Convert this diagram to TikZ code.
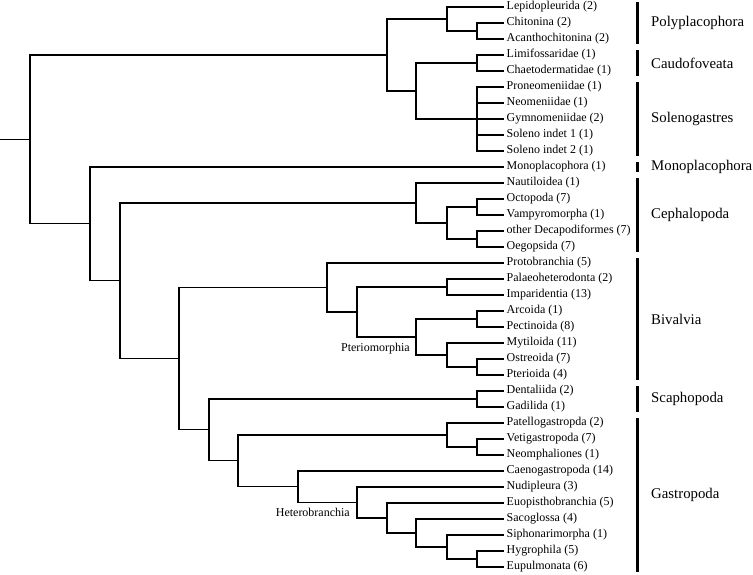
\documentclass[tikz,border=0pt]{standalone}
\usepackage{fontspec}
\setmainfont{Liberation Serif}
\usetikzlibrary{positioning}
\tikzset{
  taxon/.style={anchor=west, inner sep=2.5pt, font=\fontsize{12}{14}\selectfont},
  branch/.style={line width=1.1pt, black},
  groupbar/.style={line width=3pt, black},
  grouplabel/.style={anchor=west, inner sep=0pt, font=\fontsize{14.8}{17}\selectfont},
  cladelabel/.style={inner sep=0pt, font=\fontsize{12}{14}\selectfont}
}

\begin{document}
\begin{tikzpicture}[x=1pt, y=-1pt]
  \useasboundingbox (0,0) rectangle (753,575);

  % terminal taxa
  \node[taxon] (lepi) at (504,7) {Lepidopleurida (2)};
  \node[taxon] (chito) at (504,23) {Chitonina (2)};
  \node[taxon] (acan) at (504,39) {Acanthochitonina (2)};
  \node[taxon] (limi) at (504,55) {Limifossaridae (1)};
  \node[taxon] (chaet) at (504,71) {Chaetodermatidae (1)};
  \node[taxon] (prone) at (504,87) {Proneomeniidae (1)};
  \node[taxon] (neome) at (504,103) {Neomeniidae (1)};
  \node[taxon] (gymno) at (504,119) {Gymnomeniidae (2)};
  \node[taxon] (solA) at (504,135) {Soleno indet 1 (1)};
  \node[taxon] (solB) at (504,151) {Soleno indet 2 (1)};
  \node[taxon] (monopl) at (504,167) {Monoplacophora (1)};
  \node[taxon] (nauti) at (504,183) {Nautiloidea (1)};
  \node[taxon] (octopo) at (504,199) {Octopoda (7)};
  \node[taxon] (vampy) at (504,215) {Vampyromorpha (1)};
  \node[taxon] (odeca) at (504,231) {other Decapodiformes (7)};
  \node[taxon] (oegop) at (504,247) {Oegopsida (7)};
  \node[taxon] (proto) at (504,263) {Protobranchia (5)};
  \node[taxon] (palae) at (504,279) {Palaeoheterodonta (2)};
  \node[taxon] (impar) at (504,295) {Imparidentia (13)};
  \node[taxon] (arcoi) at (504,311) {Arcoida (1)};
  \node[taxon] (pecti) at (504,327) {Pectinoida (8)};
  \node[taxon] (mytil) at (504,343) {Mytiloida (11)};
  \node[taxon] (ostre) at (504,359) {Ostreoida (7)};
  \node[taxon] (pteri) at (504,375) {Pterioida (4)};
  \node[taxon] (denta) at (504,391) {Dentaliida (2)};
  \node[taxon] (gadil) at (504,407) {Gadilida (1)};
  \node[taxon] (patel) at (504,423) {Patellogastropda (2)};
  \node[taxon] (vetig) at (504,439) {Vetigastropoda (7)};
  \node[taxon] (neomp) at (504,455) {Neomphaliones (1)};
  \node[taxon] (caeno) at (504,471) {Caenogastropoda (14)};
  \node[taxon] (nudip) at (504,487) {Nudipleura (3)};
  \node[taxon] (euopi) at (504,503) {Euopisthobranchia (5)};
  \node[taxon] (sacog) at (504,519) {Sacoglossa (4)};
  \node[taxon] (sipho) at (504,535) {Siphonarimorpha (1)};
  \node[taxon] (hygro) at (504,551) {Hygrophila (5)};
  \node[taxon] (eupul) at (504,567) {Eupulmonata (6)};

  % internal nodes
  \coordinate (chacan) at (477,31);
  \coordinate (poly) at (447,19);
  \coordinate (caudo) at (477,63);
  \coordinate (soleno) at (477,119);
  \coordinate (aplac) at (416,91);
  \coordinate (acul) at (387,55);
  \coordinate (octpod) at (477,207);
  \coordinate (decap) at (477,239);
  \coordinate (coleoid) at (447,223);
  \coordinate (cephal) at (416,203);
  \coordinate (palimp) at (447,287);
  \coordinate (arcpec) at (477,319);
  \coordinate (ostpte) at (477,367);
  \coordinate (mytost) at (447,355);
  \coordinate (pteriom) at (416,337);
  \coordinate (autobr) at (357,312);
  \coordinate (bival) at (327,287.5);
  \coordinate (scapho) at (477,399);
  \coordinate (vetneo) at (477,447);
  \coordinate (eogastro) at (447,435);
  \coordinate (hygeup) at (477,559);
  \coordinate (sihyeu) at (447,547);
  \coordinate (sasihe) at (416,533);
  \coordinate (eusahe) at (387,518);
  \coordinate (hetero) at (357,502.5);
  \coordinate (apogas) at (298,486.75);
  \coordinate (gastro) at (238,460.9);
  \coordinate (scagas) at (209,429.9);
  \coordinate (bisga) at (179,358.7);
  \coordinate (cebisga) at (120,280.9);
  \coordinate (conch) at (90,223.9);
  \coordinate (root) at (30,139.5);
  \coordinate (base) at (0,139.5);

  % branches
  \draw[branch] (chacan) |- (chito.west);
  \draw[branch] (chacan) |- (acan.west);
  \draw[branch] (poly) |- (lepi.west);
  \draw[branch] (poly) |- (chacan);
  \draw[branch] (caudo) |- (limi.west);
  \draw[branch] (caudo) |- (chaet.west);
  \draw[branch] (soleno) |- (prone.west);
  \draw[branch] (soleno) |- (neome.west);
  \draw[branch] (soleno) |- (gymno.west);
  \draw[branch] (soleno) |- (solA.west);
  \draw[branch] (soleno) |- (solB.west);
  \draw[branch] (aplac) |- (caudo);
  \draw[branch] (aplac) |- (soleno);
  \draw[branch] (acul) |- (poly);
  \draw[branch] (acul) |- (aplac);
  \draw[branch] (octpod) |- (octopo.west);
  \draw[branch] (octpod) |- (vampy.west);
  \draw[branch] (decap) |- (odeca.west);
  \draw[branch] (decap) |- (oegop.west);
  \draw[branch] (coleoid) |- (octpod);
  \draw[branch] (coleoid) |- (decap);
  \draw[branch] (cephal) |- (nauti.west);
  \draw[branch] (cephal) |- (coleoid);
  \draw[branch] (palimp) |- (palae.west);
  \draw[branch] (palimp) |- (impar.west);
  \draw[branch] (arcpec) |- (arcoi.west);
  \draw[branch] (arcpec) |- (pecti.west);
  \draw[branch] (ostpte) |- (ostre.west);
  \draw[branch] (ostpte) |- (pteri.west);
  \draw[branch] (mytost) |- (mytil.west);
  \draw[branch] (mytost) |- (ostpte);
  \draw[branch] (pteriom) |- (arcpec);
  \draw[branch] (pteriom) |- (mytost);
  \draw[branch] (autobr) |- (palimp);
  \draw[branch] (autobr) |- (pteriom);
  \draw[branch] (bival) |- (proto.west);
  \draw[branch] (bival) |- (autobr);
  \draw[branch] (scapho) |- (denta.west);
  \draw[branch] (scapho) |- (gadil.west);
  \draw[branch] (vetneo) |- (vetig.west);
  \draw[branch] (vetneo) |- (neomp.west);
  \draw[branch] (eogastro) |- (patel.west);
  \draw[branch] (eogastro) |- (vetneo);
  \draw[branch] (hygeup) |- (hygro.west);
  \draw[branch] (hygeup) |- (eupul.west);
  \draw[branch] (sihyeu) |- (sipho.west);
  \draw[branch] (sihyeu) |- (hygeup);
  \draw[branch] (sasihe) |- (sacog.west);
  \draw[branch] (sasihe) |- (sihyeu);
  \draw[branch] (eusahe) |- (euopi.west);
  \draw[branch] (eusahe) |- (sasihe);
  \draw[branch] (hetero) |- (nudip.west);
  \draw[branch] (hetero) |- (eusahe);
  \draw[branch] (apogas) |- (caeno.west);
  \draw[branch] (apogas) |- (hetero);
  \draw[branch] (gastro) |- (eogastro);
  \draw[branch] (gastro) |- (apogas);
  \draw[branch] (scagas) |- (scapho);
  \draw[branch] (scagas) |- (gastro);
  \draw[branch] (bisga) |- (bival);
  \draw[branch] (bisga) |- (scagas);
  \draw[branch] (cebisga) |- (cephal);
  \draw[branch] (cebisga) |- (bisga);
  \draw[branch] (conch) |- (monopl.west);
  \draw[branch] (conch) |- (cebisga);
  \draw[branch] (root) |- (acul);
  \draw[branch] (root) |- (conch);
  \draw[branch] (base) -- (root);

  % clade names
  \node[cladelabel, below left=5.5pt and 6pt of pteriom] (pteriomlab) {Pteriomorphia};
  \node[cladelabel, below left=5pt and 7pt of hetero] (heterolab) {Heterobranchia};

  % classes
  \draw[groupbar] (637,2) -- (637,44);
  \node[grouplabel] (polylab) at (651,23) {Polyplacophora};
  \draw[groupbar] (637,50) -- (637,76);
  \node[grouplabel] (caudolab) at (651,63) {Caudofoveata};
  \draw[groupbar] (637,82) -- (637,156);
  \node[grouplabel] (solenolab) at (651,119) {Solenogastres};
  \draw[groupbar] (637,162) -- (637,172);
  \node[grouplabel] (monolab) at (651,167) {Monoplacophora};
  \draw[groupbar] (637,178) -- (637,252);
  \node[grouplabel] (cephallab) at (651,215) {Cephalopoda};
  \draw[groupbar] (637,258) -- (637,380);
  \node[grouplabel] (bivallab) at (651,319) {Bivalvia};
  \draw[groupbar] (637,386) -- (637,412);
  \node[grouplabel] (scapholab) at (651,399) {Scaphopoda};
  \draw[groupbar] (637,418) -- (637,572);
  \node[grouplabel] (gastrolab) at (651,495) {Gastropoda};
\end{tikzpicture}
\end{document}
